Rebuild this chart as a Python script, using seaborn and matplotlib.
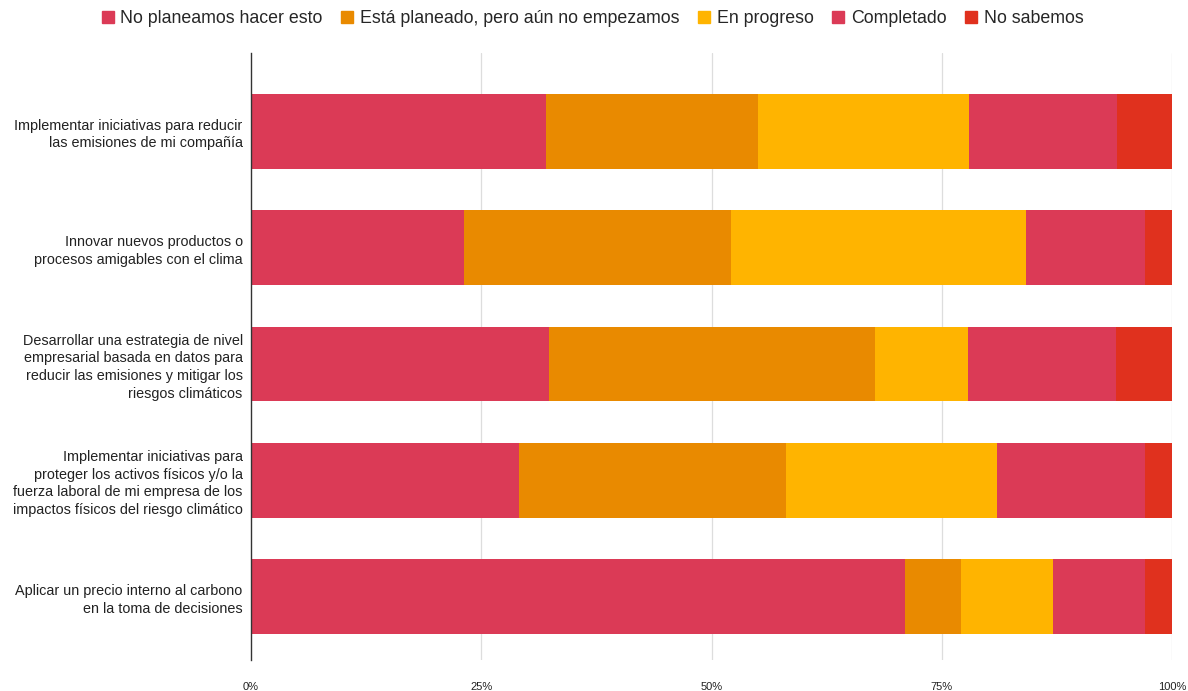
import matplotlib
matplotlib.use("Agg")
import matplotlib.pyplot as plt
from matplotlib import font_manager
import seaborn as sns
import numpy as np
import pandas as pd

categories = [
    "Implementar iniciativas para reducir\nlas emisiones de mi compañía",
    "Innovar nuevos productos o\nprocesos amigables con el clima",
    "Desarrollar una estrategia de nivel\nempresarial basada en datos para\nreducir las emisiones y mitigar los\nriesgos climáticos",
    "Implementar iniciativas para\nproteger los activos físicos y/o la\nfuerza laboral de mi empresa de los\nimpactos físicos del riesgo climático",
    "Aplicar un precio interno al carbono\nen la toma de decisiones",
]
series_names = [
    "No planeamos hacer esto",
    "Está planeado, pero aún no empezamos",
    "En progreso",
    "Completado",
    "No sabemos",
]
no_planeamos = [32.0, 23.1, 32.4, 29.1, 71.0]
planeado = [23.0, 29.0, 35.4, 29.0, 6.1]
en_progreso = [23.0, 32.0, 10.1, 22.9, 10.0]
completado = [16.0, 13.0, 16.0, 16.1, 10.0]
no_sabemos = [6.0, 2.9, 6.1, 2.9, 2.9]
tick_values = [0, 25, 50, 75, 100]
tick_labels = ["0%", "25%", "50%", "75%", "100%"]

colors = ["#DB3A56", "#E98A00", "#FFB400", "#DB3A56", "#E0311E"]

sns.set_theme(style="white")
plt.rcParams["font.family"] = ["Liberation Sans", "DejaVu Sans"]

narrow = "Liberation Sans Narrow"
available = {f.name for f in font_manager.fontManager.ttflist}
tick_family = [narrow, "Liberation Sans"] if narrow in available else ["Liberation Sans"]

values = np.array([no_planeamos, planeado, en_progreso, completado, no_sabemos])
cumulative = np.cumsum(values, axis=0)

fig = plt.figure(figsize=(11.88, 6.91), dpi=100)
ax = fig.add_axes([251 / 1188, (691 - 660) / 691, (1172 - 251) / 1188, (660 - 53) / 691])

# Stacked bars: draw the running totals from the outermost segment inward
for i in reversed(range(len(series_names))):
    df = pd.DataFrame({"cat": categories, "val": cumulative[i]})
    sns.barplot(data=df, x="val", y="cat", orient="h", color=colors[i],
                saturation=1, width=0.645, ax=ax, linewidth=0)

ax.set_xlim(0, 100)
ax.set_ylim(4.546, -0.675)
ax.set_xticks(tick_values)
ax.set_xticklabels(tick_labels, family=tick_family, fontsize=8, color="#222222")
ax.set_xlabel("")
ax.set_ylabel("")
ax.tick_params(axis="y", labelsize=10.4, colors="#222222", length=0, pad=6)
ax.tick_params(axis="x", length=0, pad=16)
for lbl in ax.get_yticklabels():
    lbl.set_horizontalalignment("right")
    lbl.set_multialignment("right")
    lbl.set_linespacing(1.32)

for v in tick_values[1:]:
    ax.axvline(v, color="#DDDDDD", linewidth=0.9, zorder=0)
for s in ["top", "right", "bottom"]:
    ax.spines[s].set_visible(False)
ax.spines["left"].set_color("#333333")
ax.spines["left"].set_linewidth(1.0)
ax.set_axisbelow(True)

handles = [plt.Line2D([0], [0], marker="s", linestyle="none", markersize=8.5,
                      markerfacecolor=c, markeredgecolor=c) for c in colors]
fig.legend(handles, series_names, loc="upper center", bbox_to_anchor=(0.4975, 1.008),
           ncol=5, frameon=False, fontsize=12.8, handletextpad=0.2,
           columnspacing=0.9, handlelength=1.0)

fig.savefig("out.png", dpi=100, facecolor="white")
